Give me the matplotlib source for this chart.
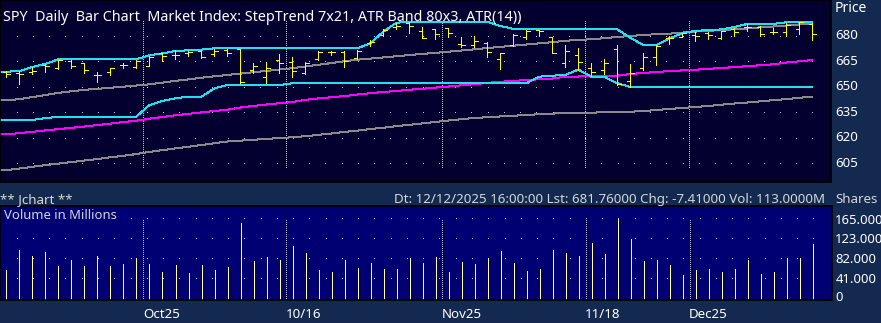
import numpy as np
import matplotlib
matplotlib.use("Agg")
import matplotlib.pyplot as plt

plt.rcParams['font.family'] = ['Noto Sans', 'DejaVu Sans']

# ---- data ----
# bars: 2025-09-16 .. 2025-12-12, daily
opens = [659.4, 658.6, 659.3, 663.2, 661.6, 666.0, 664.4, 657.4, 659.1, 663.2,
         662.4, 662.8, 670.2, 669.5, 670.6, 671.8, 669.8, 672.0, 672.6, 660.2,
         656.5, 666.3, 665.3, 658.8, 666.7, 671.0, 671.2, 667.3, 676.4, 681.0,
         686.0, 688.2, 683.5, 684.6, 685.0, 676.0, 675.0, 676.1, 667.0, 675.2,
         680.0, 683.8, 679.6, 664.7, 669.2, 661.4, 660.4, 672.6, 654.1, 661.8,
         667.9, 679.0, 680.0, 681.0, 682.4, 679.2, 684.6, 686.0, 686.0, 682.6,
         682.6, 684.3, 687.5]
highs = [659.6, 659.6, 662.4, 663.8, 666.5, 666.3, 664.6, 659.4, 661.4, 664.7,
         666.2, 668.4, 670.4, 672.2, 671.8, 672.0, 672.8, 672.8, 673.0, 664.7,
         665.3, 669.8, 667.9, 665.3, 671.6, 671.8, 671.6, 672.0, 678.0, 684.6,
         688.2, 688.8, 685.5, 684.8, 685.2, 680.0, 680.4, 676.7, 670.5, 681.6,
         683.7, 684.0, 680.0, 675.1, 673.4, 664.7, 666.9, 675.1, 663.8, 670.2,
         675.1, 680.4, 682.4, 683.0, 683.0, 683.6, 685.0, 687.5, 686.3, 685.0,
         687.9, 688.6, 688.3]
lows = [656.6, 652.3, 658.1, 659.4, 661.2, 661.4, 658.8, 653.5, 657.5, 661.4,
        661.4, 662.6, 666.0, 666.8, 668.8, 667.3, 668.6, 668.4, 652.6, 658.8,
        652.6, 658.5, 656.5, 658.2, 666.4, 669.4, 662.4, 667.0, 674.7, 680.6,
        684.3, 682.0, 679.1, 678.5, 679.6, 673.8, 673.8, 668.2, 660.8, 674.5,
        678.9, 680.4, 670.2, 662.4, 660.4, 656.9, 658.1, 651.6, 650.6, 660.4,
        663.4, 675.7, 679.6, 677.6, 678.5, 678.9, 680.4, 683.5, 680.4, 681.6,
        680.4, 681.8, 678.1]
closes = [657.9, 658.2, 659.6, 662.6, 666.3, 662.5, 660.4, 657.6, 661.4, 663.4,
          665.9, 668.2, 668.9, 669.2, 670.9, 667.9, 671.8, 670.6, 653.1, 662.8,
          661.6, 664.6, 659.9, 664.4, 671.2, 671.1, 665.9, 671.7, 676.6, 684.0,
          686.3, 686.5, 679.3, 681.6, 682.4, 675.1, 677.3, 671.2, 670.2, 681.2,
          683.4, 683.2, 670.4, 671.6, 665.0, 659.4, 664.4, 652.0, 658.5, 668.2,
          674.5, 679.3, 682.2, 680.2, 681.0, 683.3, 683.0, 685.5, 681.6, 682.8,
          687.0, 688.5, 681.76]
volumes = [60.7, 102.6, 90.0, 98.4, 69.1, 81.7, 69.1, 90.0, 69.1, 73.3,
           85.9, 73.3, 56.5, 71.2, 54.4, 71.2, 60.7, 67.0, 158.5, 79.6,
           88.0, 81.7, 111.0, 96.3, 60.7, 56.5, 81.7, 64.9, 75.4, 62.8,
           62.8, 85.9, 75.4, 88.0, 56.5, 77.5, 73.3, 85.9, 100.5, 75.4,
           58.6, 62.8, 102.6, 96.3, 90.0, 115.2, 94.2, 165.4, 123.5, 79.6,
           81.7, 71.2, 50.3, 60.7, 62.8, 56.5, 62.8, 81.7, 52.4, 56.5,
           85.9, 85.9, 113.1]

step_upper = [659.4, 659.8, 662.2, 664.0, 666.7, 666.7, 666.7, 666.7, 666.7, 666.7,
              666.7, 669.1, 670.2, 671.6, 672.0, 672.4, 673.2, 673.2, 673.2, 673.2,
              673.2, 673.2, 673.2, 673.2, 673.2, 673.2, 673.2, 673.2, 676.1, 683.0,
              688.2, 688.8, 688.8, 688.8, 688.8, 688.8, 688.8, 688.8, 686.3, 684.6,
              684.4, 684.4, 684.4, 684.4, 684.4, 684.4, 684.4, 684.3, 679.4, 675.1,
              675.1, 679.0, 682.0, 683.5, 683.8, 684.3, 685.7, 687.5, 687.5, 687.5,
              688.5, 688.5, 688.5]
step_lower = [631.1, 631.1, 631.1, 632.1, 633.0, 633.0, 633.0, 633.0, 633.0, 633.0,
              633.0, 639.8, 642.2, 643.8, 644.7, 644.7, 649.6, 651.6, 651.6, 651.6,
              651.6, 651.6, 652.6, 652.6, 652.6, 652.6, 652.6, 652.6, 652.6, 652.6,
              652.6, 652.6, 652.6, 652.6, 652.6, 652.6, 652.6, 652.6, 652.6, 652.6,
              652.6, 656.5, 657.1, 657.5, 660.7, 656.5, 656.5, 652.6, 650.5, 650.5,
              650.5, 650.5, 650.5, 650.5, 650.5, 650.5, 650.5, 650.5, 650.5, 650.5,
              650.5, 650.5, 650.5]
atr_upper = [642.6, 643.3, 644.5, 645.7, 647.0, 647.9, 648.8, 649.3, 650.0, 650.6,
             651.3, 652.0, 653.0, 654.0, 654.9, 655.9, 656.7, 657.5, 658.3, 659.1,
             659.9, 660.7, 661.5, 662.5, 663.5, 664.5, 665.6, 666.5, 667.1, 667.8,
             668.5, 669.2, 669.9, 670.5, 671.2, 671.9, 672.6, 673.3, 674.0, 674.7,
             675.4, 676.1, 676.8, 677.6, 678.1, 678.5, 679.1, 679.9, 680.4, 681.0,
             681.5, 681.8, 682.4, 683.0, 683.5, 683.9, 684.4, 684.8, 685.5, 686.0,
             686.6, 687.2, 687.9]
atr_mid = [622.6, 623.3, 624.1, 624.9, 625.7, 626.4, 627.2, 628.0, 628.9, 629.8,
           630.6, 631.8, 632.8, 633.8, 634.6, 635.5, 636.3, 637.1, 638.4, 639.3,
           640.1, 640.9, 641.6, 642.9, 643.7, 644.4, 645.1, 646.0, 646.8, 647.5,
           648.1, 648.8, 649.4, 650.1, 650.7, 651.4, 652.1, 652.9, 653.5, 654.0,
           654.5, 655.0, 655.4, 656.5, 656.6, 657.1, 657.1, 657.1, 658.1, 658.7,
           659.2, 659.8, 660.2, 660.6, 661.1, 661.6, 662.1, 662.7, 663.2, 663.8,
           664.8, 665.5, 666.3]
atr_lower = [601.5, 602.5, 603.5, 604.5, 605.4, 606.3, 607.2, 608.1, 609.1, 610.0,
             611.0, 612.3, 613.3, 614.3, 615.3, 616.3, 617.4, 618.4, 618.9, 619.4,
             619.9, 620.4, 620.9, 621.5, 622.3, 623.1, 624.0, 624.8, 625.7, 626.5,
             627.4, 628.2, 629.0, 629.9, 630.7, 631.5, 632.2, 632.7, 633.1, 633.5,
             634.0, 634.4, 634.8, 635.1, 635.3, 635.4, 635.5, 635.7, 635.9, 636.3,
             636.9, 637.5, 638.1, 638.7, 639.3, 640.0, 640.7, 641.3, 642.0, 642.7,
             643.3, 644.1, 644.7]

price_ticks = [605, 620, 635, 650, 665, 680]
vol_ticks = [0, 41.25, 82.5, 123.75, 165]
vol_labels = ['0', '41.000', '82.000', '123.000', '165.000']
month_pos = [10.5, 21.5, 33.5, 44.5, 52.5]
month_labels = ['Oct25', '10/16', 'Nov25', '11/18', 'Dec25']

title = "SPY  Daily  Bar Chart  Market Index: StepTrend 7x21, ATR Band 80x3, ATR(14))"
info = "Dt: 12/12/2025 16:00:00 Lst: 681.76000 Chg: -7.41000 Vol: 113.0000M"

# ---- styling ----
W, H = 881, 323
outer_bg = '#13294f'
price_bg = '#03002f'
vol_bg = '#000072'
txt = '#ffffff'
txt2 = '#d6d6d6'
dotc = '#c8c8d8'
PX = 0.72  # one pixel in points


def fx(px):
    return px / W


def fy(py):
    return 1 - py / H


fig = plt.figure(figsize=(W / 100, H / 100), dpi=100, facecolor=outer_bg)

# bar i sits at pixel x = 6.3 + 13 i
x0 = (0 - 6.3) / 13
x1 = (831 - 6.3) / 13
n = len(closes)
idx = np.arange(n)

# grid dot columns (every ~16.24 px)
dot_px = 16.7 + 16.24 * np.arange(50)
dot_x = (dot_px - 6.3) / 13

# ---------------- price panel ----------------
ax = fig.add_axes([0, fy(182), fx(831), 182 / H])
ax.set_facecolor(price_bg)
ax.set_xlim(x0, x1)
ax.set_ylim(594.58, 701.58)
for s in ax.spines.values():
    s.set_color('black')
    s.set_linewidth(1.2)
ax.set_xticks([])
ax.set_yticks([])

for lvl in price_ticks:
    ax.plot(dot_x, np.full_like(dot_x, lvl), ls='none', marker=',', color=dotc)
for mp in month_pos:
    ax.vlines(mp, 603.3, 689.8, colors=dotc, lw=PX, linestyles=(0, (1, 1.5)),
              antialiased=False)

xl = np.concatenate([[x0], idx])


def line(vals, color):
    v = np.concatenate([[vals[0]], vals])
    ax.plot(xl, v, color=color, lw=PX, antialiased=False)


line(atr_lower, '#8a8a8a')
line(atr_upper, '#8a8a8a')
line(atr_mid, '#ff00ff')
line(step_lower, '#22e0f0')
line(step_upper, '#22e0f0')

# OHLC bars
tk = 0.28
ax.vlines(idx, lows, highs, colors='#ffff00', lw=PX, antialiased=False)
ax.hlines(opens, idx - tk, idx, colors='#ffff00', lw=PX, antialiased=False)
ax.hlines(closes, idx, idx + tk, colors='#ffff00', lw=PX, antialiased=False)

fig.text(fx(3), fy(20.7), title, color=txt, fontsize=10.3, va='baseline')
fig.text(fx(835), fy(11.7), 'Price', color=txt, fontsize=10, va='baseline')
for lvl in price_ticks:
    ax.text(1.005, lvl - 1.55, str(lvl), transform=ax.get_yaxis_transform(),
            color=txt, fontsize=9.6, va='baseline', ha='left', clip_on=False)

# ---------------- info strip ----------------
fig.text(fx(0), fy(203.3), '** Jchart **', color=txt2, fontsize=9.6, va='baseline')
fig.text(fx(825), fy(202.7), info, color=txt2, fontsize=9.6, va='baseline', ha='right')
fig.text(fx(835), fy(202.7), 'Shares', color=txt2, fontsize=9.6, va='baseline')

# ---------------- volume panel ----------------
vax = fig.add_axes([0, fy(300), fx(832), 94 / H])
vax.set_facecolor(vol_bg)
vax.set_xlim(x0, x1)
vax.set_ylim(-2.1, 193.0)
for s in vax.spines.values():
    s.set_color('black')
    s.set_linewidth(1.2)
vax.set_xticks([])
vax.set_yticks([])

for lvl in vol_ticks[1:]:
    vax.plot(dot_x, np.full_like(dot_x, lvl), ls='none', marker=',', color=dotc)
for mp in month_pos:
    vax.vlines(mp, -2, 166, colors=dotc, lw=PX, linestyles=(0, (1, 1.5)),
               antialiased=False)

vax.vlines(idx, 0, volumes, colors='#ffff99', lw=PX, antialiased=False)

vax.text(4 / 832, 167, 'Volume in Millions', transform=vax.get_yaxis_transform(),
         color=txt2, fontsize=9.4, va='baseline')
for lvl, lab in zip(vol_ticks, vol_labels):
    yb = lvl - 8.4 if lvl > 0 else -3.5
    vax.text(1.004, yb, lab, transform=vax.get_yaxis_transform(),
             color=txt, fontsize=9.4, va='baseline', ha='left', clip_on=False)

for mp, lab in zip(month_pos, month_labels):
    px = 6.3 + 13 * mp
    fig.text(fx(px), fy(318.3), lab, color=txt, fontsize=9.6, va='baseline')

fig.savefig('out.png', dpi=100, facecolor=outer_bg)
